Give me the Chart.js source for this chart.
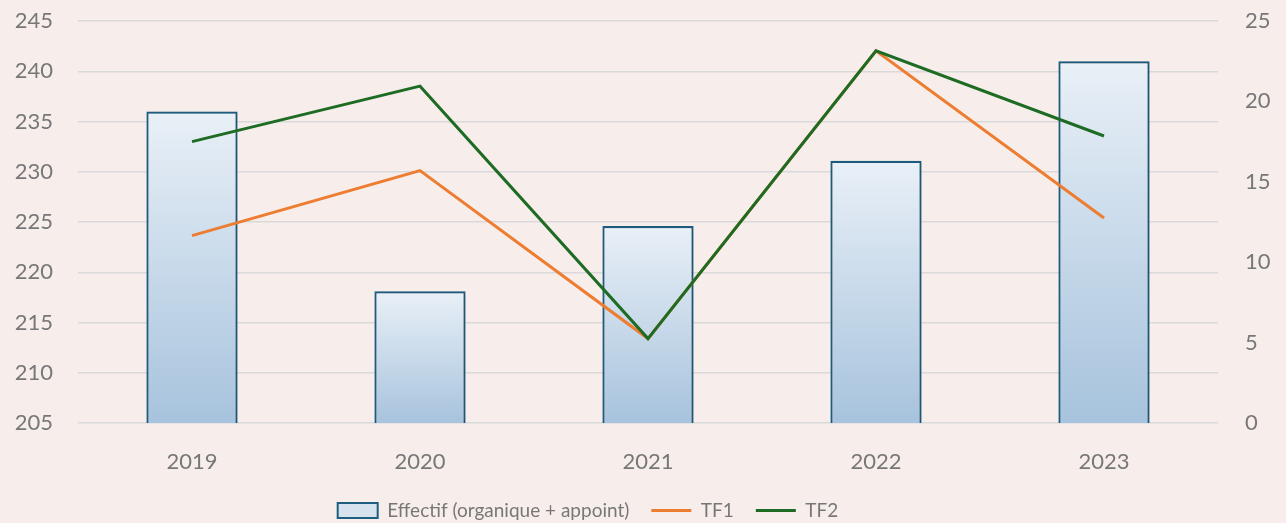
<!DOCTYPE html>
<html>
<head>
<meta charset="utf-8">
<script src="https://cdn.jsdelivr.net/npm/chart.js@4/dist/chart.umd.min.js"></script>
<style>
html,body{margin:0;padding:0;background:#F7EEEC;}
#wrap{width:1286px;height:523px;position:relative;}
</style>
</head>
<body>
<div id="wrap"><canvas id="c" width="1286" height="523"></canvas></div>
<script>
const categories = ["2019", "2020", "2021", "2022", "2023"];
const effectif = [236.0, 218.1, 224.6, 231.1, 241.0];
const tf1 = [11.65, 15.7, 5.25, 23.15, 12.75];
const tf2 = [17.5, 20.95, 5.25, 23.15, 17.85];
const leftTicks = [205, 210, 215, 220, 225, 230, 235, 240, 245];
const rightTicks = [0, 5, 10, 15, 20, 25];
const seriesNames = ["Effectif (organique + appoint)", "TF1", "TF2"];

const FONT = "Lato";
const GREY = "#777777";
const LEG_PAD = 22;
const LEG_SHIFT = 55;

function barGradient(ctx) {
  const chart = ctx.chart;
  const area = chart.chartArea;
  if (!area || ctx.type !== 'data') return "#d3e0ec";
  const y = chart.scales.y;
  const top = y.getPixelForValue(ctx.raw);
  const bottom = area.bottom;
  const g = chart.ctx.createLinearGradient(0, top, 0, bottom);
  g.addColorStop(0, "#e9f0f7");
  g.addColorStop(1, "#a7c3dd");
  return g;
}

const shadowPlugin = {
  id: 'barShadow',
  beforeDatasetDraw(chart, args) {
    if (args.index === 0) {
      chart.ctx.save();
      chart.ctx.shadowColor = "rgba(0,0,0,0.18)";
      chart.ctx.shadowBlur = 4;
      chart.ctx.shadowOffsetX = 1;
      chart.ctx.shadowOffsetY = 1;
    }
  },
  afterDatasetDraw(chart, args) {
    if (args.index === 0) chart.ctx.restore();
  }
};

const legendShift = {
  id: 'legendShift',
  afterLayout(chart) {
    if (chart.legend) chart.legend.right -= 2 * LEG_SHIFT;
  }
};

function noVertPad(s) { s.paddingTop = 0; s.paddingBottom = 0; }

new Chart(document.getElementById('c'), {
  data: {
    labels: categories,
    datasets: [
      { type: 'bar', label: seriesNames[0], data: effectif, yAxisID: 'y',
        backgroundColor: barGradient, borderColor: "#1c5d80", borderWidth: 2.2,
        borderSkipped: false, barPercentage: 0.4, categoryPercentage: 1.0, order: 3 },
      { type: 'line', label: seriesNames[1], data: tf1, yAxisID: 'y1',
        borderColor: "#ED7D31", backgroundColor: "#ED7D31", borderWidth: 3,
        pointRadius: 0, tension: 0, order: 2 },
      { type: 'line', label: seriesNames[2], data: tf2, yAxisID: 'y1',
        borderColor: "#1E6B24", backgroundColor: "#1E6B24", borderWidth: 3,
        pointRadius: 0, tension: 0, order: 1 }
    ]
  },
  options: {
    responsive: false,
    animation: false,
    devicePixelRatio: 1,
    layout: { padding: { top: 21, left: 0, right: 0, bottom: -7 } },
    plugins: {
      tooltip: { enabled: false },
      legend: {
        position: 'bottom',
        labels: {
          color: GREY,
          font: { family: FONT, size: 19 },
          usePointStyle: true,
          pointStyleWidth: 40,
          boxHeight: 15,
          padding: LEG_PAD,
          generateLabels(chart) {
            return chart.data.datasets.map((ds, i) => ({
              text: ds.label,
              fillStyle: i === 0 ? "#d6e3ef" : ds.borderColor,
              strokeStyle: ds.borderColor,
              lineWidth: i === 0 ? 2 : 3,
              pointStyle: i === 0 ? 'rect' : 'line',
              fontColor: GREY,
              datasetIndex: i,
              hidden: false
            }));
          }
        }
      }
    },
    scales: {
      x: {
        grid: { display: false, drawTicks: false },
        border: { display: false },
        ticks: { color: GREY, font: { family: FONT, size: 22 }, padding: 26 },
        afterFit(s) { s.height = 78 - LEG_PAD; }
      },
      y: {
        position: 'left',
        min: 205, max: 245,
        afterBuildTicks(s) { s.ticks = leftTicks.map(v => ({ value: v })); },
        grid: { color: "#d9d9d9", lineWidth: 1.5, drawTicks: false },
        border: { display: false },
        ticks: { color: GREY, font: { family: FONT, size: 22 }, padding: 25 },
        afterFit(s) { s.width = 78; noVertPad(s); }
      },
      y1: {
        position: 'right',
        min: 0, max: 25,
        afterBuildTicks(s) { s.ticks = rightTicks.map(v => ({ value: v })); },
        grid: { display: false, drawTicks: false },
        border: { display: false },
        ticks: { color: GREY, font: { family: FONT, size: 22 }, padding: 27 },
        afterFit(s) { s.width = 68; noVertPad(s); }
      }
    }
  },
  plugins: [shadowPlugin, legendShift]
});
</script>
</body>
</html>
